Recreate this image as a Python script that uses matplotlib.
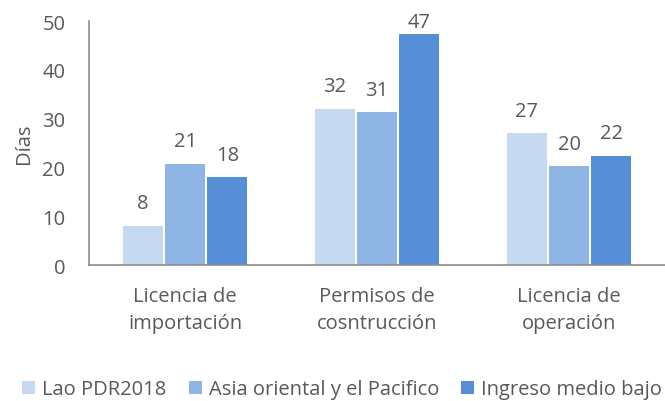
import numpy as np
import matplotlib.pyplot as plt

plt.rcParams['font.family'] = ['Open Sans', 'DejaVu Sans']

categorias = ['Licencia de\nimportación', 'Permisos de\ncosntrucción', 'Licencia de\noperación']
series = ['Lao PDR2018', 'Asia oriental y el Pacifico', 'Ingreso medio bajo']
lao = [8.1, 32.0, 27.0]
asia = [20.8, 31.3, 20.3]
ingreso = [18.0, 47.4, 22.4]
colores = ['#c5d9f1', '#8eb4e3', '#558ed5']

gris = '#595959'
fs = 14.5
fig = plt.figure(figsize=(6.65, 4.02), dpi=100)
ax = fig.add_axes([0.134, 0.338, 0.866, 0.607])

x = np.arange(len(categorias))
w = 0.21
for i, (vals, nombre) in enumerate(zip([lao, asia, ingreso], series)):
    xs = x + (i - 1) * 0.22
    ax.bar(xs, vals, w, color=colores[i], label=nombre)
    for xi, v in zip(xs, vals):
        # etiqueta casi pegada a la barra si no cabe arriba
        off = 1 if v > 45 else 9
        ax.annotate(f'{v:.0f}', (xi, v), xytext=(0, off), textcoords='offset points',
                    ha='center', va='bottom', fontsize=fs, color=gris)

ax.set_xlim(-0.5, 2.5)
ax.set_ylim(0, 50)
ax.set_yticks(range(0, 51, 10))
ax.set_xticks(x)
ax.set_xticklabels(categorias, fontsize=fs, color=gris, linespacing=1.45)
ax.tick_params(axis='y', labelsize=fs, colors=gris, length=0, pad=17)
ax.tick_params(axis='x', length=0, pad=15)
ax.set_ylabel('Días', fontsize=fs, color=gris, labelpad=6)
for s in ['top', 'right']:
    ax.spines[s].set_visible(False)
for s in ['left', 'bottom']:
    ax.spines[s].set_color('#8c8c8c')
    ax.spines[s].set_linewidth(1.2)

fig.legend(loc='lower left', bbox_to_anchor=(0.006, -0.041), ncol=3, frameon=False,
           fontsize=fs, labelcolor=gris, handlelength=0.65, handleheight=0.65,
           handletextpad=0.35, columnspacing=1.1)

fig.savefig('out.png', dpi=100)
